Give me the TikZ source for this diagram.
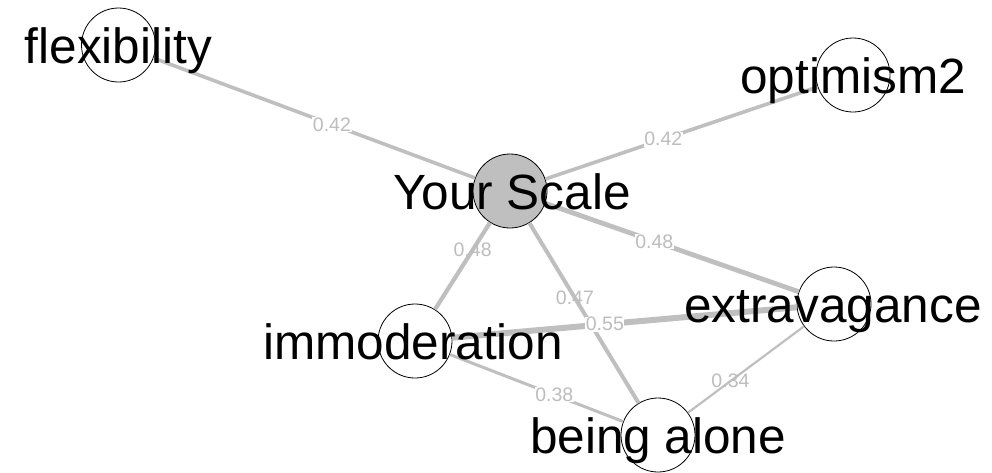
\documentclass[tikz,border=0pt]{standalone}
\usepackage{fontspec}
\setmainfont{Liberation Sans}
\definecolor{edgegray}{HTML}{BFBFBF}
\definecolor{labgray}{HTML}{BDBDBD}
\begin{document}
\begin{tikzpicture}[x=1pt,y=-1pt,
  vert/.style={circle,draw=black,line width=0.8pt,fill=white,minimum size=74pt,inner sep=0pt},
  hubvert/.style={vert,fill=edgegray},
  lbl/.style={font=\fontsize{49.5}{50}\selectfont,text=black,anchor=base,inner sep=0pt},
  edge/.style={draw=edgegray},
  wlab/.style={font=\fontsize{19.5}{20}\selectfont,text=labgray,fill=white,inner sep=0.6pt},
  nlab/.style={font=\fontsize{19.5}{20}\selectfont,text=labgray,inner sep=0.6pt}]
\useasboundingbox (0,0) rectangle (992,472);
% vertices
\node[vert] (F) at (118.5,45) {};
\node[hubvert] (Y) at (510,191) {};
\node[vert] (O) at (853,75) {};
\node[vert] (E) at (834,304) {};
\node[vert] (I) at (415,341) {};
\node[vert] (B) at (658,435) {};
% edges
\draw[edge,line width=3.6pt] (F) -- node[wlab,pos=0.555]{0.42} (Y);
\draw[edge,line width=3.6pt] (Y) -- node[wlab,pos=0.433]{0.42} (O);
\draw[edge,line width=4.8pt] (Y) -- node[wlab,pos=0.430]{0.48} (E);
\draw[edge,line width=4.2pt] (Y) -- node[nlab,pos=0.315]{0.48} (I);
\draw[edge,line width=4.0pt] (Y) -- node[nlab,pos=0.417]{0.47} (B);
\draw[edge,line width=6pt] (I) -- node[wlab,pos=0.443]{0.55} (E);
\draw[edge,line width=3pt] (I) -- node[wlab,pos=0.603]{0.38} (B);
\draw[edge,line width=2.2pt] (E) -- node[nlab,pos=0.634]{0.34} (B);
% vertex labels
\node[lbl] (tF) at (118.5,63.5) {flexibility};
\node[lbl] (tY) at (512,209.5) {Your Scale};
\node[lbl] (tO) at (853,93.5) {optimism2};
\node[lbl] (tE) at (833,322.5) {extravagance};
\node[lbl] (tI) at (413,359.5) {immoderation};
\node[lbl] (tB) at (658,453.5) {being alone};
\end{tikzpicture}
\end{document}
